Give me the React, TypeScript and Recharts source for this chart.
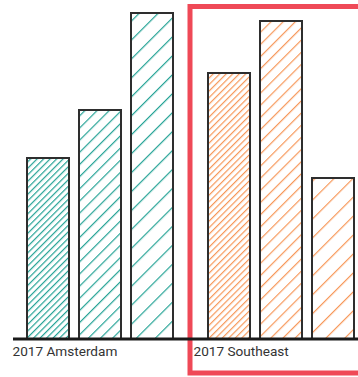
import React from "react";
import { BarChart, Bar, XAxis, YAxis, Cell, ReferenceArea } from "recharts";

const categories = ["2017 Amsterdam", "2017 Southeast"];
const seriesA = [181, 266];
const seriesB = [229, 318];
const seriesC = [326, 161];
const groupColors = ["#25a396", "#f7985a"];
const hatchSpacing = [4.6, 8.6, 13.4];
const seriesKeys = ["a", "b", "c"];

const data = categories.map((name, i) => ({
  name,
  a: seriesA[i],
  b: seriesB[i],
  c: seriesC[i],
}));

const patternId = (g: number, s: number) => `hatch-${g}-${s}`;

const Tick = (props: any) => {
  const { x, y, payload } = props;
  return (
    <text
      x={x - 87}
      y={y}
      dy={9}
      textAnchor="start"
      fontFamily="Roboto, 'Noto Sans', sans-serif"
      fontSize={13.6}
      fill="#333"
    >
      {payload.value}
    </text>
  );
};

export default function App() {
  return (
    <div
      style={{
        position: "absolute",
        left: 0,
        top: 0,
        width: 358,
        height: 377,
        overflow: "hidden",
        background: "#fff",
      }}
    >
      <svg width={0} height={0} style={{ position: "absolute" }}>
        <defs>
          {groupColors.map((c, g) =>
            hatchSpacing.map((s, si) => (
              <pattern
                key={`${g}-${si}`}
                id={patternId(g, si)}
                patternUnits="userSpaceOnUse"
                width={s}
                height={10}
                patternTransform="rotate(45)"
              >
                <rect x={0} y={0} width={s} height={10} fill="#fff" />
                <line x1={0.6} y1={0} x2={0.6} y2={10} stroke={c} strokeWidth={1.2} />
              </pattern>
            ))
          )}
        </defs>
      </svg>
      <BarChart
        width={380}
        height={377}
        data={data}
        margin={{ top: 0, right: 9, bottom: 0, left: 13 }}
        barSize={42}
        barGap={10}
      >
        <YAxis hide domain={[0, 339]} />
        <XAxis
          dataKey="name"
          height={38}
          tickLine={false}
          axisLine={{ stroke: "#1a1a1a", strokeWidth: 3 }}
          tick={<Tick />}
          padding={{ left: -4, right: 0 }}
          interval={0}
        />
        {seriesKeys.map((k, si) => (
          <Bar
            key={k}
            dataKey={k}
            stroke="#2e2e2e"
            strokeWidth={2}
            isAnimationActive={false}
          >
            {data.map((_, g) => (
              <Cell key={g} fill={`url(#${patternId(g, si)})`} />
            ))}
          </Bar>
        ))}
        <ReferenceArea
          x1="2017 Southeast"
          x2="2017 Southeast"
          y1={-34}
          y2={332.5}
          ifOverflow="visible"
          fill="none"
          stroke="#fff"
          strokeWidth={9}
        />
        <ReferenceArea
          x1="2017 Southeast"
          x2="2017 Southeast"
          y1={-34}
          y2={332.5}
          ifOverflow="visible"
          fill="none"
          stroke="#ef4957"
          strokeWidth={5}
        />
      </BarChart>
    </div>
  );
}
